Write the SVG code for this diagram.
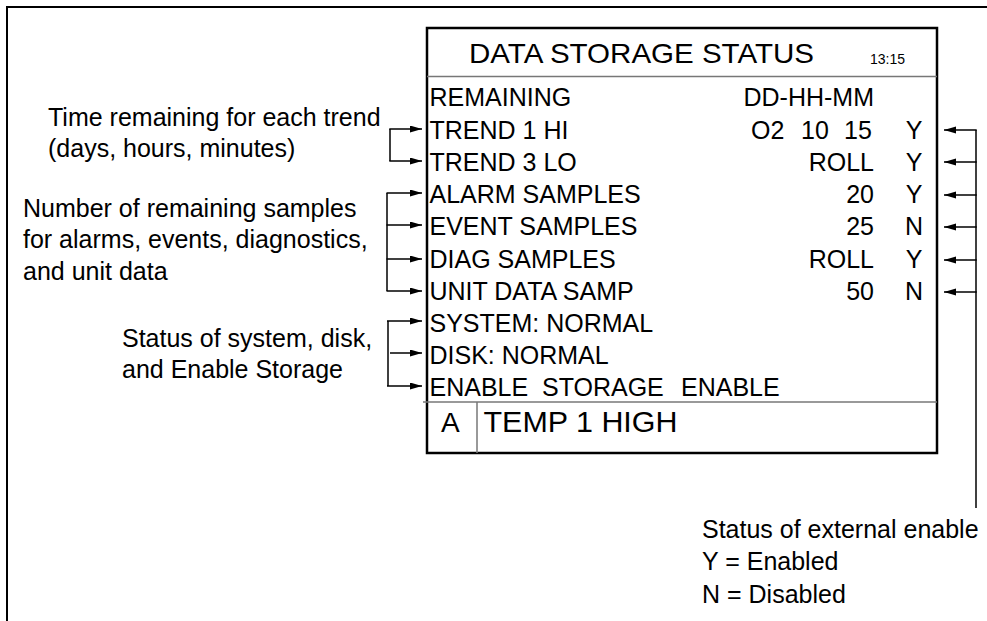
<svg xmlns="http://www.w3.org/2000/svg" width="987" height="621" viewBox="0 0 987 621">
<defs>
<marker id="ah" markerUnits="userSpaceOnUse" markerWidth="13" markerHeight="8" refX="12" refY="3.5" orient="auto">
<path d="M0,0 L12,3.5 L0,7 z" fill="#000"/>
</marker>
<style>
text{font-family:"Liberation Sans",Arial,sans-serif;fill:#000}
.ann{font-size:25px}
.scr{font-size:25px}
.c{stroke:#000;stroke-width:1.5;fill:none}
.a{stroke:#000;stroke-width:1.5;fill:none;marker-end:url(#ah)}
.sep{stroke:#777;stroke-width:1.5}
</style>
</defs>
<rect width="987" height="621" fill="#fff"/>
<g id="frame">
<path d="M7,621 V7 H987" fill="none" stroke="#000" stroke-width="2"/>
</g>
<g id="screen">
<rect x="427" y="28" width="510" height="425" fill="#fff" stroke="#000" stroke-width="2.5"/>
<line class="sep" x1="427" y1="76.5" x2="937" y2="76.5"/>
<line class="sep" x1="423" y1="402" x2="937" y2="402"/>
<line class="sep" x1="477" y1="402" x2="477" y2="453"/>
<text x="469" y="63" font-size="28.5" textLength="345" lengthAdjust="spacingAndGlyphs">DATA STORAGE STATUS</text>
<text x="870" y="64" font-size="14">13:15</text>
<text class="scr" x="429.5" y="106">REMAINING</text>
<text class="scr" x="874" y="106" text-anchor="end">DD-HH-MM</text>
<text class="scr" x="429.5" y="138.5">TREND 1 HI</text>
<text class="scr" y="138.5"><tspan x="751">O2</tspan><tspan x="801">10</tspan><tspan x="844">15</tspan></text>
<text class="scr" x="914" y="138.5" text-anchor="middle">Y</text>
<text class="scr" x="429.5" y="171">TREND 3 LO</text>
<text class="scr" x="874" y="171" text-anchor="end">ROLL</text>
<text class="scr" x="914" y="171" text-anchor="middle">Y</text>
<text class="scr" x="429.5" y="203">ALARM SAMPLES</text>
<text class="scr" x="874" y="203" text-anchor="end">20</text>
<text class="scr" x="914" y="203" text-anchor="middle">Y</text>
<text class="scr" x="429.5" y="235">EVENT SAMPLES</text>
<text class="scr" x="874" y="235" text-anchor="end">25</text>
<text class="scr" x="914" y="235" text-anchor="middle">N</text>
<text class="scr" x="429.5" y="268">DIAG SAMPLES</text>
<text class="scr" x="874" y="268" text-anchor="end">ROLL</text>
<text class="scr" x="914" y="268" text-anchor="middle">Y</text>
<text class="scr" x="429.5" y="300">UNIT DATA SAMP</text>
<text class="scr" x="874" y="300" text-anchor="end">50</text>
<text class="scr" x="914" y="300" text-anchor="middle">N</text>
<text class="scr" x="429.5" y="332">SYSTEM: NORMAL</text>
<text class="scr" x="429.5" y="364">DISK: NORMAL</text>
<text class="scr" y="396"><tspan x="429.5">ENABLE</tspan><tspan x="542">STORAGE</tspan><tspan x="681">ENABLE</tspan></text>
<text x="441" y="432" font-size="28">A</text>
<text x="483.5" y="432" font-size="29" textLength="194" lengthAdjust="spacingAndGlyphs">TEMP 1 HIGH</text>
</g>
<g id="note-trend">
<text class="ann" x="48" y="126">Time remaining for each trend</text>
<text class="ann" x="48" y="157">(days, hours, minutes)</text>
</g>
<g id="note-samples">
<text class="ann" x="23" y="217">Number of remaining samples</text>
<text class="ann" x="23" y="248">for alarms, events, diagnostics,</text>
<text class="ann" x="23" y="280">and unit data</text>
</g>
<g id="note-status">
<text class="ann" x="122" y="347">Status of system, disk,</text>
<text class="ann" x="122" y="378">and Enable Storage</text>
</g>
<g id="note-external">
<text class="ann" x="702" y="538">Status of external enable</text>
<text class="ann" x="702" y="570">Y = Enabled</text>
<text class="ann" x="702" y="603">N = Disabled</text>
</g>
<g id="connectors">
<line class="c" x1="390" y1="129" x2="390" y2="161"/>
<line class="a" x1="389.3" y1="129" x2="422" y2="129"/>
<line class="a" x1="389.3" y1="161" x2="422" y2="161"/>
<line class="c" x1="387" y1="193" x2="387" y2="291" stroke-width="1"/>
<line class="a" x1="386.5" y1="193" x2="422" y2="193"/>
<line class="a" x1="386.5" y1="225" x2="422" y2="225"/>
<line class="a" x1="386.5" y1="259" x2="422" y2="259"/>
<line class="a" x1="386.5" y1="291" x2="422" y2="291"/>
<line class="c" x1="388" y1="321" x2="388" y2="386" stroke-width="2"/>
<line class="a" x1="387" y1="321" x2="422" y2="321"/>
<line class="a" x1="390" y1="353" x2="422" y2="353"/>
<line class="a" x1="387" y1="386" x2="422" y2="386"/>
<line class="c" x1="976" y1="130" x2="976" y2="508"/>
<line class="a" x1="976.7" y1="130" x2="944" y2="130"/>
<line class="a" x1="976.7" y1="162" x2="944" y2="162"/>
<line class="a" x1="976.7" y1="195" x2="944" y2="195"/>
<line class="a" x1="976.7" y1="227" x2="944" y2="227"/>
<line class="a" x1="976.7" y1="260" x2="944" y2="260"/>
<line class="a" x1="976.7" y1="292" x2="944" y2="292"/>
</g>
</svg>
